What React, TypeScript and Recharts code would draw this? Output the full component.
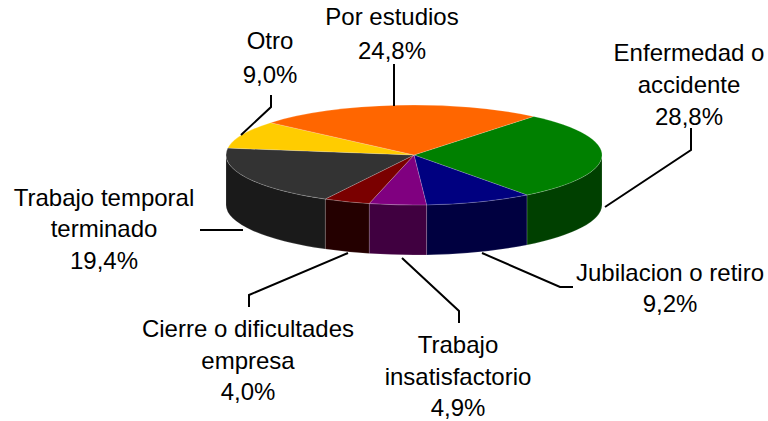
import { Pie, PieChart } from "recharts";

const categories = [
  "Enfermedad o accidente",
  "Jubilacion o retiro",
  "Trabajo insatisfactorio",
  "Cierre o dificultades empresa",
  "Trabajo temporal terminado",
  "Otro",
  "Por estudios",
];
const values = [28.8, 9.2, 4.9, 4.0, 19.4, 9.0, 24.8];
const topColors = ["#008000", "#000080", "#800080", "#7a0000", "#333333", "#ffcc00", "#ff6600"];
const wallColors = ["#004000", "#000040", "#400040", "#240000", "#1a1a1a", "#806600", "#803300"];

// label layout, same order as categories: wrapped text, centre x, baselines, leader line
const labelLayout = [
  { lines: ["Enfermedad o", "accidente"], x: 689, y: [61, 93, 125], leader: "605,207 691,150 691,128" },
  { lines: ["Jubilacion o retiro"], x: 670, y: [281, 312], leader: "482,253 560,287 573,287" },
  { lines: ["Trabajo", "insatisfactorio"], x: 458, y: [353, 385, 416], leader: "402,258 459,311 459,323" },
  { lines: ["Cierre o dificultades", "empresa"], x: 248, y: [337, 369, 400], leader: "348,253 249,295 249,307" },
  { lines: ["Trabajo temporal", "terminado"], x: 104, y: [206, 237, 269], leader: "243,230 200,230" },
  { lines: ["Otro"], x: 270, y: [49, 83], leader: "241,135 271,107 271,95" },
  { lines: ["Por estudios"], x: 392, y: [25, 59], leader: "394,106 394,64" },
];

const topData = categories.map((name, i) => ({ name, value: values[i], fill: topColors[i] }));
const wallData = categories.map((name, i) => ({ name, value: values[i], fill: wallColors[i] }));

const CX = 414;
const CY = 155;
const RX = 188;
const RY = 50;
const DEPTH = 50;
const START_ANGLE = 50.5;

function pt(cx: number, cy: number, rx: number, angle: number, dy = 0) {
  const rad = (angle * Math.PI) / 180;
  const ry = rx * (RY / RX);
  return `${cx + rx * Math.cos(rad)} ${cy - ry * Math.sin(rad) + dy}`;
}

// top of the disc: a sector flattened to an ellipse
function TopSlice(props: any) {
  const { cx, cy, outerRadius: r, startAngle, endAngle, fill } = props;
  const ry = r * (RY / RX);
  const large = Math.abs(startAngle - endAngle) > 180 ? 1 : 0;
  const d = `M ${cx} ${cy} L ${pt(cx, cy, r, startAngle)} A ${r} ${ry} 0 ${large} 1 ${pt(cx, cy, r, endAngle)} Z`;
  return <path d={d} fill={fill} stroke="#ffffff" strokeOpacity={0.3} strokeWidth={0.6} />;
}

// side of the disc: only the front half of the rim is visible
function WallSlice(props: any) {
  const { cx, cy, outerRadius: r, startAngle, endAngle, fill } = props;
  const a0 = Math.min(startAngle, 0);
  const a1 = Math.max(endAngle, -180);
  if (a0 <= a1) return null;
  const ry = r * (RY / RX);
  const d =
    `M ${pt(cx, cy, r, a0)} A ${r} ${ry} 0 0 1 ${pt(cx, cy, r, a1)} ` +
    `L ${pt(cx, cy, r, a1, DEPTH)} A ${r} ${ry} 0 0 0 ${pt(cx, cy, r, a0, DEPTH)} Z`;
  return <path d={d} fill={fill} stroke="#ffffff" strokeOpacity={0.25} strokeWidth={0.6} />;
}

function SliceLabel(props: any) {
  const layout = labelLayout[props.index];
  const texts = [...layout.lines, `${values[props.index].toFixed(1).replace(".", ",")}%`];
  return (
    <g>
      <polyline points={layout.leader} fill="none" stroke="#000000" strokeWidth={2} />
      {texts.map((t, i) => (
        <text key={i} x={layout.x} y={layout.y[i]} textAnchor="middle" fontSize={24} fill="#000000">
          {t}
        </text>
      ))}
    </g>
  );
}

export default function App() {
  return (
    <div style={{ position: "absolute", left: 0, top: 0, fontFamily: "'Liberation Sans', Arial, sans-serif" }}>
      <PieChart width={768} height={421} margin={{ top: 0, right: 0, bottom: 0, left: 0 }}>
        <Pie
          data={wallData}
          dataKey="value"
          nameKey="name"
          cx={CX}
          cy={CY}
          innerRadius={0}
          outerRadius={RX}
          startAngle={START_ANGLE}
          endAngle={START_ANGLE - 360}
          paddingAngle={0}
          shape={WallSlice}
          isAnimationActive={false}
        />
        <Pie
          data={topData}
          dataKey="value"
          nameKey="name"
          cx={CX}
          cy={CY}
          innerRadius={0}
          outerRadius={RX}
          startAngle={START_ANGLE}
          endAngle={START_ANGLE - 360}
          paddingAngle={0}
          shape={TopSlice}
          label={SliceLabel}
          labelLine={false}
          isAnimationActive={false}
        />
      </PieChart>
    </div>
  );
}
